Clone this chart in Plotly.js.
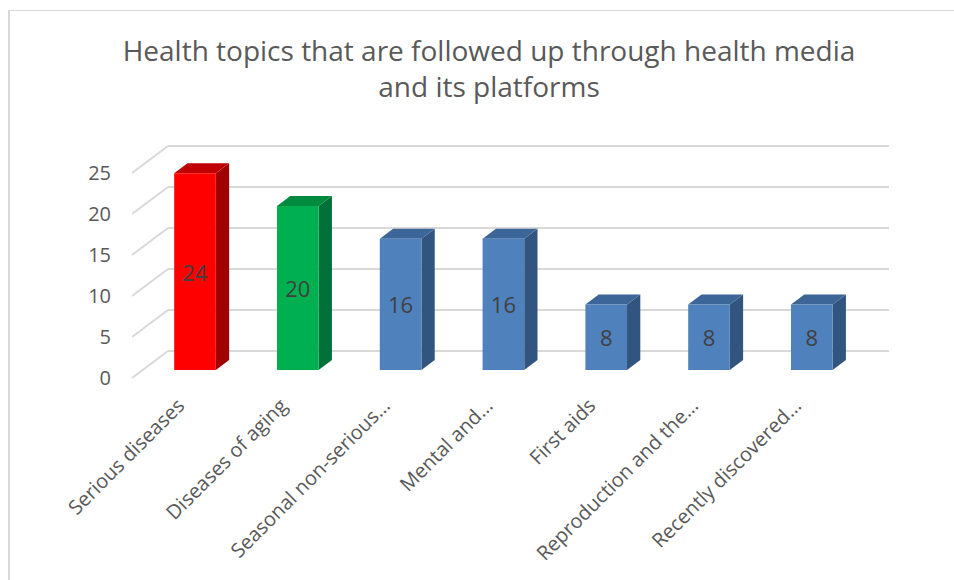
<!DOCTYPE html>
<html>
<head>
<meta charset="utf-8">
<script src="https://cdn.plot.ly/plotly-3.0.1.min.js"></script>
<style>
  html, body { margin: 0; padding: 0; background: #ffffff; }
  #chart { width: 954px; height: 580px; }
  #frame { position: absolute; left: 8px; top: 10px; width: 960px; height: 600px;
           border-left: 2px solid #D9D9D9; border-top: 1px solid #D9D9D9; pointer-events: none; }
</style>
</head>
<body>
<div id="chart"></div>
<div id="frame"></div>
<script>
// ---- data ----
const categories = [
  "Serious diseases",
  "Diseases of aging",
  "Seasonal non-serious…",
  "Mental and…",
  "First aids",
  "Reproduction and the…",
  "Recently discovered…"
];
const values = [24, 20, 16, 16, 8, 8, 8];
const yTicks = [0, 5, 10, 15, 20, 25];

// ---- styling ----
const frontColors = ["#FF0000", "#00B050", "#4F81BD", "#4F81BD", "#4F81BD", "#4F81BD", "#4F81BD"];
const topColors   = ["#C00000", "#008A3E", "#3C6697", "#3C6697", "#3C6697", "#3C6697", "#3C6697"];
const sideColors  = ["#A00000", "#00703A", "#32557F", "#32557F", "#32557F", "#32557F", "#32557F"];

// geometry of the pseudo-3D frame (in axis units)
const pxPerY = 8.2, pxPerX = 102.8;
const barW = 0.405;
const depthX = 13.3 / pxPerX, depthY = 10 / pxPerY;   // bar depth offset
const frontOff = 8 / pxPerY;                          // front wall below bar base
const backOff = 19 / pxPerY;                          // back wall above bar base
const xLeft = -0.613, xBack = -0.263, xRight = 6.751;
const labelShift = 0.16;                              // category label anchor shift

const shapes = [];
// grid: diagonal on side wall + horizontal on back wall
yTicks.forEach(v => {
  shapes.push({type: "line", xref: "x", yref: "y", layer: "below",
    x0: xLeft, y0: v - frontOff, x1: xBack, y1: v + backOff,
    line: {color: "#D9D9D9", width: 2}});
  shapes.push({type: "line", xref: "x", yref: "y", layer: "below",
    x0: xBack, y0: v + backOff, x1: xRight, y1: v + backOff,
    line: {color: "#D9D9D9", width: 2}});
});
// bar side and top faces
values.forEach((v, i) => {
  const l = i - barW / 2, r = i + barW / 2;
  shapes.push({type: "path", xref: "x", yref: "y", layer: "below",
    path: `M${r},0 L${r + depthX},${depthY} L${r + depthX},${v + depthY} L${r},${v} Z`,
    fillcolor: sideColors[i], line: {width: 0}});
  shapes.push({type: "path", xref: "x", yref: "y", layer: "below",
    path: `M${l},${v} L${l + depthX},${v + depthY} L${r + depthX},${v + depthY} L${r},${v} Z`,
    fillcolor: topColors[i], line: {width: 0}});
});

const trace = {
  type: "bar",
  x: categories.map((c, i) => i),
  y: values,
  width: barW,
  marker: {color: frontColors, line: {width: 0}},
  text: values.map(String),
  textposition: "inside",
  insidetextanchor: "middle",
  textangle: 0,
  constraintext: "none",
  textfont: {family: "Open Sans", size: 22, color: "#404040"},
  hoverinfo: "none"
};

const layout = {
  width: 954, height: 580,
  margin: {l: 132, r: 65, t: 140, b: 200},
  paper_bgcolor: "#ffffff", plot_bgcolor: "rgba(0,0,0,0)",
  showlegend: false,
  title: {
    text: "Health topics that are followed up through health media<br>and its platforms",
    font: {family: "Open Sans", size: 28, color: "#595959"},
    xref: "container", x: 0.5126, xanchor: "center",
    yref: "container", y: 0.895, yanchor: "top"
  },
  xaxis: {
    range: [xLeft, xRight],
    tickmode: "array",
    tickvals: categories.map((c, i) => i - labelShift),
    ticktext: categories,
    tickangle: -45,
    tickfont: {family: "Open Sans", size: 20, color: "#595959"},
    ticks: "outside", ticklen: 5, tickcolor: "rgba(0,0,0,0)",
    showgrid: false, zeroline: false, showline: false, fixedrange: true
  },
  yaxis: {
    range: [-10 / pxPerY, 230 / pxPerY],
    tickmode: "array",
    tickvals: yTicks.map(v => v - frontOff),
    ticktext: yTicks.map(String),
    tickfont: {family: "Open Sans", size: 20, color: "#595959"},
    ticks: "outside", ticklen: 16, tickcolor: "rgba(0,0,0,0)",
    showgrid: false, zeroline: false, showline: false, fixedrange: true
  },
  shapes: shapes
};

Plotly.newPlot("chart", [trace], layout, {displayModeBar: false, staticPlot: true});
</script>
</body>
</html>
